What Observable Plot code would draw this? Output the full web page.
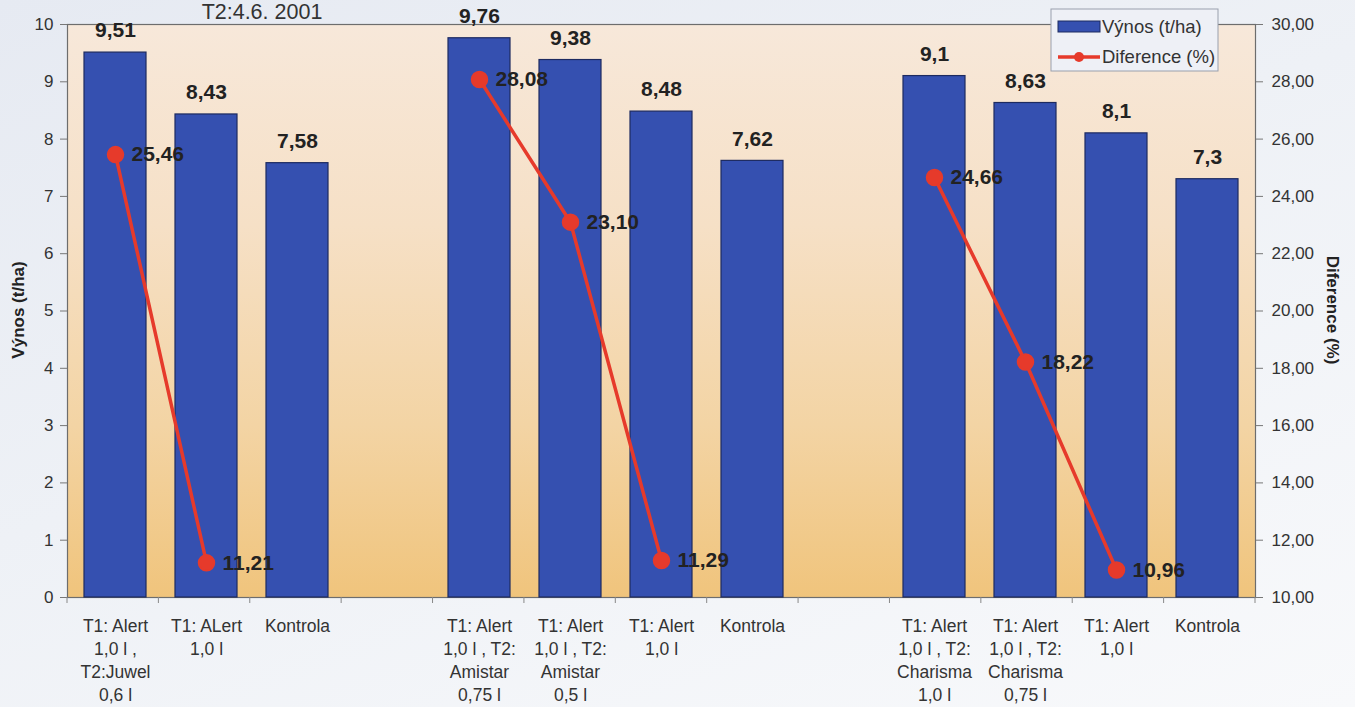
<!DOCTYPE html>
<html>
<head>
<meta charset="utf-8">
<script src="https://cdn.jsdelivr.net/npm/d3@7"></script>
<script src="https://cdn.jsdelivr.net/npm/@observablehq/plot@0.6"></script>
<style>
  html, body { margin: 0; padding: 0; }
  body { width: 1355px; height: 707px; overflow: hidden;
         background: linear-gradient(160deg, #e6eaf2 0%, #eef1f6 45%, #f8f9fb 100%);
         font-family: "Liberation Sans", Arial, sans-serif; }
  #chart { position: relative; width: 1355px; height: 707px; }
</style>
</head>
<body>
<div id="chart"></div>
<script>
// ---- data ----
const labels = [
  "T1: Alert\n1,0 l ,\nT2:Juwel\n0,6 l",
  "T1: ALert\n1,0 l",
  "Kontrola",
  "T1: Alert\n1,0 l , T2:\nAmistar\n0,75 l",
  "T1: Alert\n1,0 l , T2:\nAmistar\n0,5 l",
  "T1: Alert\n1,0 l",
  "Kontrola",
  "T1: Alert\n1,0 l , T2:\nCharisma\n1,0 l",
  "T1: Alert\n1,0 l , T2:\nCharisma\n0,75 l",
  "T1: Alert\n1,0 l",
  "Kontrola"
];
const groups = [1, 1, 1, 2, 2, 2, 2, 3, 3, 3, 3];
const vynos = [9.51, 8.43, 7.58, 9.76, 9.38, 8.48, 7.62, 9.1, 8.63, 8.1, 7.3];
const diference = [25.46, 11.21, null, 28.08, 23.10, 11.29, null, 24.66, 18.22, 10.96, null];
const leftTicks = [0, 1, 2, 3, 4, 5, 6, 7, 8, 9, 10];
const rightTicks = [10, 12, 14, 16, 18, 20, 22, 24, 26, 28, 30];
const title = "T2:4.6. 2001";
const yLabel = "Výnos (t/ha)";
const y2Label = "Diference (%)";
const legendLabels = ["Výnos (t/ha)", "Diference (%)"];

// ---- build table ----
const data = labels.map((label, i) => ({
  key: `${groups[i]}-${i}`, label, group: groups[i], vynos: vynos[i], dif: diference[i]
}));
// x domain with spacer slots between groups
const domain = [];
data.forEach((d, i) => {
  if (i > 0 && groups[i] !== groups[i - 1]) domain.push(`gap-${groups[i]}`);
  domain.push(d.key);
});
const lineData = data.filter(d => d.dif != null);
// right axis (10–30 %) mapped onto left (0–10 t/ha)
const r0 = rightTicks[0], r1 = rightTicks[rightTicks.length - 1];
const r2l = v => (v - r0) / (r1 - r0) * 10;
const comma = v => String(v).replace(".", ",");
const comma2 = v => v.toFixed(2).replace(".", ",");

const font = "'Liberation Sans', Arial, sans-serif";
const plot = Plot.plot({
  width: 1355, height: 707,
  marginLeft: 67, marginRight: 100, marginTop: 24, marginBottom: 110,
  style: { background: "transparent", fontFamily: font, color: "#333" },
  x: { domain, paddingInner: 0.32, paddingOuter: 0.16, axis: null },
  y: { domain: [0, 10], axis: null },
  marks: [
    Plot.frame({ fill: "url(#bgGrad)", stroke: "#6d6d6d", strokeWidth: 1.2 }),
    Plot.barY(data, { x: "key", y: "vynos", fill: "#3550b0", stroke: "#1d2a60", strokeWidth: 1.2 }),
    Plot.text(data, { x: "key", y: "vynos", text: d => comma(d.vynos), dy: -22,
      fontSize: 21, fontWeight: "bold", fill: "#222" }),
    Plot.line(lineData, { x: "key", y: d => r2l(d.dif), z: "group", stroke: "#e63a2b", strokeWidth: 3.5 }),
    Plot.dot(lineData, { x: "key", y: d => r2l(d.dif), r: 8, fill: "#e63a2b", stroke: "#e63a2b" }),
    Plot.text(lineData, { x: "key", y: d => r2l(d.dif), text: d => comma2(d.dif), dx: 16,
      textAnchor: "start", fontSize: 21, fontWeight: "bold", fill: "#222" }),
    Plot.text(data, { x: "key", text: "label", frameAnchor: "bottom", dy: 18, lineAnchor: "top",
      lineHeight: 1.31, fontSize: 17.5, fill: "#333" }),
    Plot.axisY(leftTicks, { anchor: "left", tickSize: 7, tickPadding: 7, fontSize: 17,
      label: null, stroke: "#777", fill: "#333", tickFormat: d => String(d) }),
    Plot.axisY(leftTicks, { anchor: "right", tickSize: 7, tickPadding: 9, fontSize: 17,
      label: null, stroke: "#777", fill: "#333",
      tickFormat: y => comma2(r0 + y * (r1 - r0) / 10) })
  ]
});
document.getElementById("chart").appendChild(plot);

// ---- decorations ----
const svg = d3.select(plot);
const defs = svg.insert("defs", ":first-child");
const g = defs.append("linearGradient").attr("id", "bgGrad")
  .attr("x1", 0).attr("y1", 0).attr("x2", 0).attr("y2", 1);
[[0, "#f7e8da"], [0.35, "#f6e0c6"], [0.7, "#f3d4a4"], [1, "#f0c47c"]].forEach(([o, c]) =>
  g.append("stop").attr("offset", o).attr("stop-color", c));

// x tick marks at band boundaries
const sx = plot.scale("x"), sy = plot.scale("y");
const xb = d3.scaleBand(domain, sx.range).paddingInner(sx.paddingInner).paddingOuter(sx.paddingOuter);
const bottom = sy.range[0];
const bounds = domain.map(k => xb(k) - (xb.step() - xb.bandwidth()) / 2);
bounds.push(sx.range[1]);
svg.append("g").attr("stroke", "#888").selectAll("line").data(bounds).join("line")
  .attr("x1", d => d).attr("x2", d => d).attr("y1", bottom).attr("y2", bottom + 6);

// title
svg.append("text").attr("x", 262).attr("y", 19).attr("text-anchor", "middle")
  .attr("font-size", 21.5).attr("fill", "#333").text(title);
// axis labels
svg.append("text").attr("transform", "translate(24,310) rotate(-90)").attr("text-anchor", "middle")
  .attr("font-size", 17).attr("font-weight", "bold").attr("fill", "#222").text(yLabel);
svg.append("text").attr("transform", "translate(1327,310) rotate(90)").attr("text-anchor", "middle")
  .attr("font-size", 17).attr("font-weight", "bold").attr("fill", "#222").text(y2Label);

// legend
const lg = svg.append("g").attr("transform", "translate(1051,9)").attr("text-anchor", "start");
lg.append("rect").attr("width", 167).attr("height", 62).attr("fill", "#eef0f6").attr("stroke", "#9aa0ad");
lg.append("rect").attr("x", 7).attr("y", 12).attr("width", 42).attr("height", 11)
  .attr("fill", "#3550b0").attr("stroke", "#1d2a60");
lg.append("text").attr("x", 51).attr("y", 24).attr("text-anchor", "start")
  .attr("font-size", 18.5).attr("fill", "#333").text(legendLabels[0]);
lg.append("line").attr("x1", 7).attr("x2", 49).attr("y1", 48).attr("y2", 48)
  .attr("stroke", "#e63a2b").attr("stroke-width", 3.5);
lg.append("circle").attr("cx", 28).attr("cy", 48).attr("r", 5).attr("fill", "#e63a2b");
lg.append("text").attr("x", 51).attr("y", 54).attr("text-anchor", "start")
  .attr("font-size", 18.5).attr("fill", "#333").text(legendLabels[1]);
</script>
</body>
</html>
